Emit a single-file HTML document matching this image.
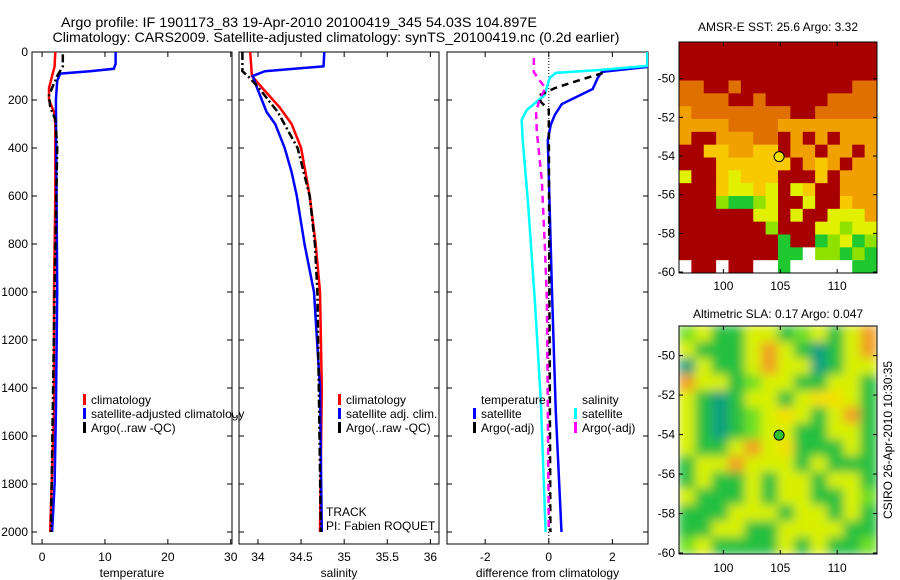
<!DOCTYPE html>
<html><head><meta charset="utf-8">
<style>
html,body{margin:0;padding:0;background:#fff;}
svg{display:block;font-family:"Liberation Sans",sans-serif;}
text{font-size:12px;fill:#000;}
</style></head>
<body>
<svg id="fig" width="900" height="580" viewBox="0 0 900 580" xmlns="http://www.w3.org/2000/svg">
<text x="299" y="27" text-anchor="middle" style="font-size:14px" textLength="476" lengthAdjust="spacingAndGlyphs">Argo profile: IF 1901173_83 19-Apr-2010 20100419_345 54.03S 104.897E</text>
<text x="336" y="42" text-anchor="middle" style="font-size:14px" textLength="567" lengthAdjust="spacingAndGlyphs">Climatology: CARS2009. Satellite-adjusted climatology: synTS_20100419.nc (0.2d earlier)</text>
<text x="778" y="31" text-anchor="middle">AMSR-E SST: 25.6 Argo: 3.32</text>
<text x="778" y="318" text-anchor="middle">Altimetric SLA: 0.17 Argo: 0.047</text>
<text transform="translate(892,440) rotate(-90)" text-anchor="middle">CSIRO 26-Apr-2010 10:30:35</text>
<g id="marks"></g>
</svg>
<script>
// ---------- data ----------
const depthTicks = [0,200,400,600,800,1000,1200,1400,1600,1800,2000];
const tempTicks = [0,10,20,30];
const salTicks = [34,34.5,35,35.5,36];
const salTickLabels = ["34","34.5","35","35.5","36"];
const diffTicks = [-2,0,2];
const lonTicks = [100,105,110];
const latTicks = [-50,-52,-54,-56,-58,-60];

const tClimDepth = [0,60,100,150,200,250,300,600,1000,1500,1900,2000];
const tClimVal   = [2.1,2.0,1.6,1.1,1.1,1.9,2.1,2.1,1.9,1.9,1.4,1.3];
const tSatDepth  = [0,50,70,80,90,120,200,1000,1500,1800,2000];
const tSatVal    = [11.7,11.7,11.4,7.6,2.9,2.4,2.2,2.4,2.2,2.0,1.6];
const tArgoDepth = [10,60,100,180,230,280,400,1000,2000];
const tArgoVal   = [3.3,3.3,2.4,1.1,1.3,2.1,2.4,2.0,1.4];

const sClimDepth = [0,100,150,230,300,400,500,600,800,1000,1400,2000];
const sClimVal   = [33.91,33.93,34.05,34.25,34.39,34.5,34.55,34.6,34.67,34.72,34.74,34.72];
const sSatDepth  = [0,60,70,80,100,150,250,300,400,500,600,800,1000,1400,2000];
const sSatVal    = [34.77,34.76,34.42,34.08,33.94,33.99,34.1,34.2,34.31,34.39,34.45,34.54,34.65,34.72,34.74];
const sArgoDepth = [0,80,110,150,250,400,600,800,1000,2000];
const sArgoVal   = [33.82,33.82,33.91,34.01,34.23,34.46,34.6,34.66,34.69,34.73];

const dTSatDepth = [0,62,83,108,154,217,262,304,367,1000,1500,2000];
const dTSatVal   = [3.1,3.1,1.67,1.54,1.38,0.41,0.19,0.06,-0.03,0.1,0.22,0.4];
const dSSatDepth = [0,58,75,87,108,179,242,283,367,617,1033,1450,2000];
const dSSatVal   = [3.1,3.1,1.6,0.22,0.03,-0.13,-0.69,-0.85,-0.82,-0.66,-0.44,-0.25,-0.1];
const dTArgoDepth = [88,120,150,181,208,240,300,1000,2000];
const dTArgoVal   = [1.7,0.9,0.2,-0.3,-0.25,0,0,0.02,0.05];
const dSArgoDepth = [25,83,108,150,192,250,325,533,825,1033,2000];
const dSArgoVal   = [-0.47,-0.47,-0.35,-0.1,-0.28,-0.4,-0.38,-0.22,-0.12,-0.06,0];

const sstRows = [
"RRRRRRRRRRRRRRRR",
"RRRRRRRRRRRRRRRR",
"RRRRRRRRRRRRRRRR",
"OORRORRRRRRRRROO",
"OOOORRORRRRROOOO",
"oOOOOOOOORROOOOO",
"ooooOOOOoooooooo",
"oRRoooOORoRoRooo",
"RRYYooYYRooRooRo",
"RRRYYYYYYRoYoRoo",
"yRRYyYYYRRRYRooo",
"RRRYyyYyRyYRRooo",
"RRRgGGgyRRyRRYoo",
"RRRRRRyyRyRRyyyo",
"RRRRRRRgRRRyygyy",
"RRRRRRRRGRRGgyGg",
"RRRRRRRRGGWggGgG",
"WRRWRRWWGWWWWWGG"];
const slaRows = [
"gyGGyyGgyGyO",
"yGGGyOyGTGyO",
"TyGGyOyyTGyy",
"OyyGgyyGGyyG",
"yGTGyyGyYYyG",
"yGTGgyYyGyOG",
"yGTGgyyGGyyG",
"yGGyOyYGGGyG",
"GyyOyyyGyGGG",
"GyGGyGyyGyyG",
"yGGGyGyyGGyg",
"GGGyyyGyyGyG",
"GGyyGGyyyyGG",
"gyGGGGyGyGGg"];
const argoLon = [104.897];
const argoLat = [-54.03];

// ---------- helpers ----------
const NS="http://www.w3.org/2000/svg";
const root=document.getElementById('marks');
function mk(tag,attrs,parent){const e=document.createElementNS(NS,tag);for(const k in attrs)e.setAttribute(k,attrs[k]);(parent||root).appendChild(e);return e;}
const yTop=52, yBot=544, dMax=(yBot-yTop)/0.24;
const yD=d=>yTop+d*(yBot-yTop)/dMax;
function lin(d0,d1,r0,r1){return v=>r0+(v-d0)*(r1-r0)/(d1-d0);}
const panels=[
 {x0:32,x1:232,xs:lin(-1.6,30.2,32,232),ticks:tempTicks,labels:tempTicks.map(String),xl:"temperature",name:"temperature"},
 {x0:239,x1:439,xs:lin(33.78,36.1,239,439),ticks:salTicks,labels:salTickLabels,xl:"salinity",name:"salinity"},
 {x0:447,x1:648,xs:lin(-3.2,3.12,447,648),ticks:diffTicks,labels:diffTicks.map(String),xl:"difference from climatology",name:"difference"}
];
function series(p,dep,val,color,w,dash,name){
 const pts=dep.map((d,i)=>p.xs(val[i]).toFixed(1)+","+yD(d).toFixed(1)).join(" ");
 const cp=mk('clipPath',{id:'cp'+name});
 mk('rect',{x:p.x0,y:yTop,width:p.x1-p.x0,height:yBot-yTop},cp);
 const e=mk('polyline',{points:pts,fill:'none',stroke:color,'stroke-width':w,'clip-path':'url(#cp'+name+')'});
 if(dash)e.setAttribute('stroke-dasharray',dash);
 
 
}
panels.forEach((p,pi)=>{
 const fr=mk('rect',{x:p.x0,y:yTop,width:p.x1-p.x0,height:yBot-yTop,fill:'#fff',stroke:'#000','stroke-width':1});
 
 
 depthTicks.forEach(d=>{
  mk('line',{x1:p.x0,x2:p.x0+5,y1:yD(d),y2:yD(d),stroke:'#000'});
  mk('line',{x1:p.x1,x2:p.x1-5,y1:yD(d),y2:yD(d),stroke:'#000'});
  if(pi===0){const t=mk('text',{x:p.x0-4,y:yD(d)+4,'text-anchor':'end'});t.textContent=d;
   
   }
 });
 p.ticks.forEach((v,i)=>{
  const x=p.xs(v);
  mk('line',{x1:x,x2:x,y1:yBot,y2:yBot-5,stroke:'#000'});
  mk('line',{x1:x,x2:x,y1:yTop,y2:yTop+5,stroke:'#000'});
  const t=mk('text',{x:x,y:561,'text-anchor':'middle'});t.textContent=p.labels[i];
  
  
 });
 const xl=mk('text',{x:(p.x0+p.x1)/2,y:577,'text-anchor':'middle'});xl.textContent=p.xl;
 
 
});
// zero line
const zl=mk('line',{x1:panels[2].xs(0),x2:panels[2].xs(0),y1:yTop,y2:yBot,stroke:'#000','stroke-dasharray':'1,2'});



series(panels[0],tClimDepth,tClimVal,'#f00',2.5,null,'temp-climatology-line');
series(panels[0],tSatDepth,tSatVal,'#00f',2.5,null,'temp-satellite-line');
series(panels[0],tArgoDepth,tArgoVal,'#000',2.5,'8,3,2,3','temp-argo-line');
series(panels[1],sClimDepth,sClimVal,'#f00',2.5,null,'sal-climatology-line');
series(panels[1],sSatDepth,sSatVal,'#00f',2.5,null,'sal-satellite-line');
series(panels[1],sArgoDepth,sArgoVal,'#000',2.5,'8,3,2,3','sal-argo-line');
series(panels[2],dTSatDepth,dTSatVal,'#00f',2.5,null,'diff-temp-satellite-line');
series(panels[2],dSSatDepth,dSSatVal,'#0ff',2.5,null,'diff-sal-satellite-line');
series(panels[2],dTArgoDepth,dTArgoVal,'#000',2.5,'7,5','diff-temp-argo-line');
series(panels[2],dSArgoDepth,dSArgoVal,'#f0f',2.5,'7,5','diff-sal-argo-line');

function legend(x,y,items,nm){
 items.forEach((it,i)=>{
  const yy=y+i*14;
  if(it[0]){const r=mk('rect',{x:x,y:yy-10,width:3,height:11,fill:it[0]});}
  const t=mk('text',{x:x+8,y:yy});t.textContent=it[1];
  
  
 });
}
legend(83,404,[['#f00','climatology'],['#00f','satellite-adjusted climatology'],['#000','Argo(..raw -QC)']],'temp-legend');
const cover=mk('rect',{x:233,y:395,width:5,height:20,fill:'#fff'});
legend(338,404,[['#f00','climatology'],['#00f','satellite adj. clim.'],['#000','Argo(..raw -QC)']],'sal-legend');
legend(473,404,[[null,'temperature'],['#00f','satellite'],['#000','Argo(-adj)']],'diff-temp-legend');
legend(574,404,[[null,'salinity'],['#0ff','satellite'],['#f0f','Argo(-adj)']],'diff-sal-legend');
const tr=mk('text',{x:326,y:516});tr.textContent='TRACK';


const pi_=mk('text',{x:326,y:530});pi_.textContent='PI: Fabien ROQUET';



// ---------- maps ----------
const sstCol={R:'#a80000',O:'#e07000',o:'#f0a000',Y:'#f8c800',y:'#e0f000',g:'#90e000',G:'#20c830',W:'#ffffff'};
const slaCol={G:'#28c040',g:'#70e020',y:'#d8f000',Y:'#f4e000',O:'#f0a020',T:'#10a080'};
function map(x0,x1,y0,y1,lat0,lat1,rows,cols,blur,nm,dotColor,labY){
 const lx=lin(96.1,113.5,x0,x1), ly=lin(lat0,lat1,y0,y1);
 const cp=mk('clipPath',{id:'cp'+nm});mk('rect',{x:x0,y:y0,width:x1-x0,height:y1-y0},cp);
 const g=mk('g',{'clip-path':'url(#cp'+nm+')'});
 
 
 let tgt=g;
 if(blur){const f=mk('filter',{id:'bl'+nm});mk('feGaussianBlur',{stdDeviation:blur},f);tgt=mk('g',{filter:'url(#bl'+nm+')'},g);}
 const nr=rows.length,nc=rows[0].length,cw=(x1-x0)/nc,ch=(y1-y0)/nr;
 rows.forEach((r,ri)=>{[...r].forEach((c,ci)=>{
  const e=mk('rect',{x:x0+ci*cw-(blur?0.5:0),y:y0+ri*ch-(blur?0.5:0),width:cw+1,height:ch+1,fill:cols[c]},tgt);
  
  
 });});
 const fr=mk('rect',{x:x0,y:y0,width:x1-x0,height:y1-y0,fill:'none',stroke:'#000'});
 
 
 lonTicks.forEach(v=>{const x=lx(v);mk('line',{x1:x,x2:x,y1:y1,y2:y1-4,stroke:'#000'});mk('line',{x1:x,x2:x,y1:y0,y2:y0+4,stroke:'#000'});
  const t=mk('text',{x:x,y:labY,'text-anchor':'middle'});t.textContent=v;
  
  });
 latTicks.forEach(v=>{const y=ly(v);mk('line',{x1:x0,x2:x0+4,y1:y,y2:y,stroke:'#000'});mk('line',{x1:x1,x2:x1-4,y1:y,y2:y,stroke:'#000'});
  const t=mk('text',{x:x0-4,y:y+4,'text-anchor':'end'});t.textContent=v;
  
  });
 const d=mk('circle',{cx:lx(argoLon[0]),cy:ly(argoLat[0]),r:5,fill:dotColor,stroke:'#000','stroke-width':1});
 
 
}
map(679,877,42,273,-48.1,-60.05,sstRows,sstCol,0,'sst-map','#f0e000',290);
map(679,877,326,554,-48.5,-60.05,slaRows,slaCol,5,'sla-map','#30c030',572);
</script>
</body></html>
